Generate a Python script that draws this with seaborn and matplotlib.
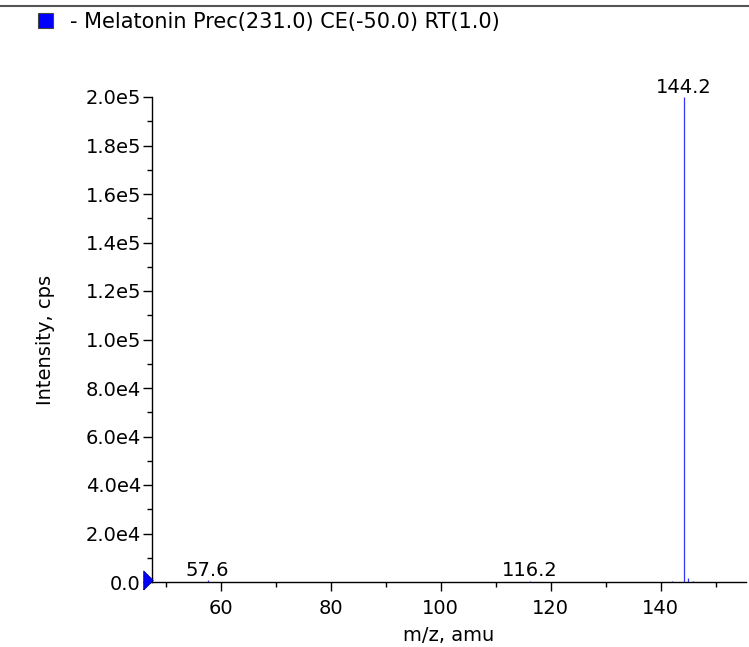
import matplotlib
matplotlib.use("Agg")
import matplotlib.pyplot as plt
import matplotlib.transforms as mtransforms
from matplotlib.lines import Line2D
from matplotlib.patches import Rectangle
import seaborn as sns
import numpy as np

# ---- data ----
mz = [57.6, 116.2, 142.1, 144.2, 144.9, 145.9]
intensity = [800, 600, 600, 200000, 1800, 500]
labeled_mz = [57.6, 116.2, 144.2]
labeled_int = [800, 600, 200000]
legend_label = "- Melatonin Prec(231.0) CE(-50.0) RT(1.0)"
x_ticks = [60, 80, 100, 120, 140]
y_ticks = [0, 20000, 40000, 60000, 80000, 100000, 120000, 140000, 160000, 180000, 200000]
y_ticklabels = ["0.0", "2.0e4", "4.0e4", "6.0e4", "8.0e4", "1.0e5", "1.2e5", "1.4e5", "1.6e5", "1.8e5", "2.0e5"]

sns.set_style("ticks")
plt.rcParams['font.family'] = ['DejaVu Sans']
plt.rcParams.update({"text.color": "black", "axes.labelcolor": "black",
                     "xtick.color": "black", "ytick.color": "black"})

FS = 14
W, H = 749, 647
fig = plt.figure(figsize=(W / 100, H / 100), dpi=100)
ax = fig.add_axes([152 / W, 65 / H, (746 - 152) / W, (582 - 97) / H])

ax.vlines(mz, 0, intensity, colors="#3434ff", linewidth=0.9)
for m, v in zip(labeled_mz, labeled_int):
    ax.annotate(f"{m:.1f}", (m, v), xytext=(0, 3.2), textcoords="offset points",
                ha="center", va="baseline", fontsize=FS, color="black")

ax.set_xlim(47.5, 155.5)
ax.set_ylim(0, 200000)
ax.set_xticks(x_ticks)
ax.set_xticks(np.arange(50, 156, 10), minor=True)
ax.set_yticks(y_ticks)
ax.set_yticklabels(y_ticklabels)
ax.set_yticks(np.arange(10000, 200000, 20000), minor=True)
ax.tick_params(axis="both", which="major", length=6.5, width=1, labelsize=FS, color="black")
ax.tick_params(axis="x", which="major", pad=5.5)
ax.tick_params(axis="y", which="major", pad=1.5)
ax.tick_params(axis="both", which="minor", length=3.5, width=1, color="black")
for s in ["top", "right"]:
    ax.spines[s].set_visible(False)
for s in ["left", "bottom"]:
    ax.spines[s].set_color("black")
    ax.spines[s].set_linewidth(1)

ax.set_xlabel("m/z, amu", fontsize=FS, labelpad=6)
ax.set_ylabel("Intensity, cps", fontsize=FS, labelpad=22)

# origin marker (blue triangle)
trans = mtransforms.offset_copy(ax.transData, fig=fig, x=-3.2, y=1.2, units="points")
tri = [(-0.25, -0.5), (0.25, 0.0), (-0.25, 0.5), (-0.25, -0.5)]
ax.plot([47.5], [0], marker=tri, markersize=13.7, color="blue", markeredgecolor="#000080",
        markeredgewidth=0.6, transform=trans, clip_on=False, zorder=5)

# top separator line
fig.add_artist(Line2D([0, 1], [1 - 6 / H, 1 - 6 / H], color="#555555", linewidth=1.5))

# legend
fig.add_artist(Rectangle((38 / W, 1 - 28 / H), 15 / W, 15 / H, facecolor="blue",
                         edgecolor="#444444", linewidth=0.8))
fig.text(70 / W, 1 - 22 / H, legend_label, fontsize=15, va="center", ha="left")

fig.savefig("out.png", dpi=100)
